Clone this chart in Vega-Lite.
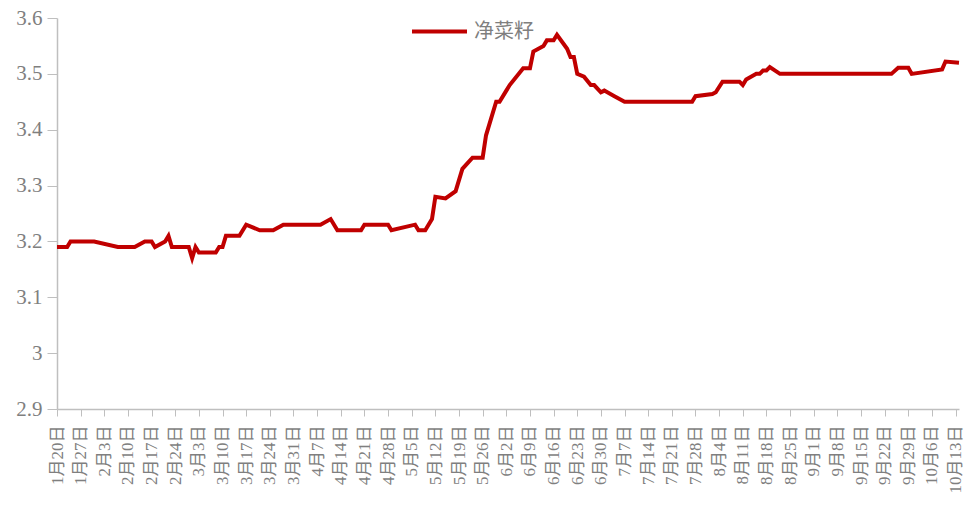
{
  "$schema": "https://vega.github.io/schema/vega-lite/v6.json",
  "autosize": "none",
  "width": 902,
  "height": 391,
  "padding": {"left": 57, "top": 18, "right": 9, "bottom": 109},
  "background": "white",
  "config": {"view": {"stroke": null}},
  "data": {
    "values": [
      {"date": "2025/01/20", "v": 3.19},
      {"date": "2025/01/23", "v": 3.19},
      {"date": "2025/01/24", "v": 3.20},
      {"date": "2025/01/31", "v": 3.20},
      {"date": "2025/02/07", "v": 3.19},
      {"date": "2025/02/12", "v": 3.19},
      {"date": "2025/02/15", "v": 3.20},
      {"date": "2025/02/17", "v": 3.20},
      {"date": "2025/02/18", "v": 3.19},
      {"date": "2025/02/21", "v": 3.20},
      {"date": "2025/02/22", "v": 3.21},
      {"date": "2025/02/23", "v": 3.19},
      {"date": "2025/02/28", "v": 3.19},
      {"date": "2025/03/01", "v": 3.17},
      {"date": "2025/03/02", "v": 3.19},
      {"date": "2025/03/03", "v": 3.18},
      {"date": "2025/03/08", "v": 3.18},
      {"date": "2025/03/09", "v": 3.19},
      {"date": "2025/03/10", "v": 3.19},
      {"date": "2025/03/11", "v": 3.21},
      {"date": "2025/03/15", "v": 3.21},
      {"date": "2025/03/17", "v": 3.23},
      {"date": "2025/03/21", "v": 3.22},
      {"date": "2025/03/25", "v": 3.22},
      {"date": "2025/03/28", "v": 3.23},
      {"date": "2025/04/08", "v": 3.23},
      {"date": "2025/04/11", "v": 3.24},
      {"date": "2025/04/13", "v": 3.22},
      {"date": "2025/04/20", "v": 3.22},
      {"date": "2025/04/21", "v": 3.23},
      {"date": "2025/04/28", "v": 3.23},
      {"date": "2025/04/29", "v": 3.22},
      {"date": "2025/05/06", "v": 3.23},
      {"date": "2025/05/07", "v": 3.22},
      {"date": "2025/05/09", "v": 3.22},
      {"date": "2025/05/11", "v": 3.24},
      {"date": "2025/05/12", "v": 3.28},
      {"date": "2025/05/15", "v": 3.277},
      {"date": "2025/05/18", "v": 3.29},
      {"date": "2025/05/20", "v": 3.33},
      {"date": "2025/05/23", "v": 3.35},
      {"date": "2025/05/26", "v": 3.35},
      {"date": "2025/05/27", "v": 3.39},
      {"date": "2025/05/30", "v": 3.45},
      {"date": "2025/05/31", "v": 3.45},
      {"date": "2025/06/02", "v": 3.47},
      {"date": "2025/06/03", "v": 3.48},
      {"date": "2025/06/07", "v": 3.51},
      {"date": "2025/06/09", "v": 3.51},
      {"date": "2025/06/10", "v": 3.54},
      {"date": "2025/06/13", "v": 3.55},
      {"date": "2025/06/14", "v": 3.56},
      {"date": "2025/06/16", "v": 3.56},
      {"date": "2025/06/17", "v": 3.57},
      {"date": "2025/06/20", "v": 3.545},
      {"date": "2025/06/21", "v": 3.53},
      {"date": "2025/06/22", "v": 3.53},
      {"date": "2025/06/23", "v": 3.50},
      {"date": "2025/06/25", "v": 3.495},
      {"date": "2025/06/27", "v": 3.48},
      {"date": "2025/06/28", "v": 3.48},
      {"date": "2025/06/30", "v": 3.467},
      {"date": "2025/07/01", "v": 3.47},
      {"date": "2025/07/04", "v": 3.46},
      {"date": "2025/07/07", "v": 3.45},
      {"date": "2025/07/09", "v": 3.45},
      {"date": "2025/07/27", "v": 3.45},
      {"date": "2025/07/28", "v": 3.46},
      {"date": "2025/08/02", "v": 3.464},
      {"date": "2025/08/03", "v": 3.467},
      {"date": "2025/08/05", "v": 3.486},
      {"date": "2025/08/10", "v": 3.486},
      {"date": "2025/08/11", "v": 3.48},
      {"date": "2025/08/12", "v": 3.49},
      {"date": "2025/08/15", "v": 3.50},
      {"date": "2025/08/16", "v": 3.50},
      {"date": "2025/08/17", "v": 3.506},
      {"date": "2025/08/18", "v": 3.506},
      {"date": "2025/08/19", "v": 3.512},
      {"date": "2025/08/22", "v": 3.50},
      {"date": "2025/09/24", "v": 3.50},
      {"date": "2025/09/26", "v": 3.511},
      {"date": "2025/09/29", "v": 3.511},
      {"date": "2025/09/30", "v": 3.50},
      {"date": "2025/10/09", "v": 3.508},
      {"date": "2025/10/10", "v": 3.522},
      {"date": "2025/10/14", "v": 3.52}
    ]
  },
  "mark": {"type": "line", "strokeWidth": 4, "strokeJoin": "miter"},
  "encoding": {
    "x": {
      "field": "date",
      "type": "temporal",
      "scale": {
        "domain": [{"year": 2025, "month": 1, "date": 20}, {"year": 2025, "month": 10, "date": 14}]
      },
      "axis": {
        "title": null,
        "format": "%-m月%-d日",
        "labelAngle": -90,
        "labelAlign": "right",
        "labelBaseline": "middle",
        "labelFont": "Liberation Serif, Noto Sans CJK SC",
        "labelFontSize": 17,
        "labelColor": "#7f7f7f",
        "labelPadding": 9,
        "labelOverlap": false,
        "labelFlush": false,
        "tickSize": 7,
        "tickColor": "#bfbfbf",
        "domainColor": "#bfbfbf",
        "domainWidth": 1.5,
        "grid": false,
        "values": [
          {"year": 2025, "month": 1, "date": 20},
          {"year": 2025, "month": 1, "date": 27},
          {"year": 2025, "month": 2, "date": 3},
          {"year": 2025, "month": 2, "date": 10},
          {"year": 2025, "month": 2, "date": 17},
          {"year": 2025, "month": 2, "date": 24},
          {"year": 2025, "month": 3, "date": 3},
          {"year": 2025, "month": 3, "date": 10},
          {"year": 2025, "month": 3, "date": 17},
          {"year": 2025, "month": 3, "date": 24},
          {"year": 2025, "month": 3, "date": 31},
          {"year": 2025, "month": 4, "date": 7},
          {"year": 2025, "month": 4, "date": 14},
          {"year": 2025, "month": 4, "date": 21},
          {"year": 2025, "month": 4, "date": 28},
          {"year": 2025, "month": 5, "date": 5},
          {"year": 2025, "month": 5, "date": 12},
          {"year": 2025, "month": 5, "date": 19},
          {"year": 2025, "month": 5, "date": 26},
          {"year": 2025, "month": 6, "date": 2},
          {"year": 2025, "month": 6, "date": 9},
          {"year": 2025, "month": 6, "date": 16},
          {"year": 2025, "month": 6, "date": 23},
          {"year": 2025, "month": 6, "date": 30},
          {"year": 2025, "month": 7, "date": 7},
          {"year": 2025, "month": 7, "date": 14},
          {"year": 2025, "month": 7, "date": 21},
          {"year": 2025, "month": 7, "date": 28},
          {"year": 2025, "month": 8, "date": 4},
          {"year": 2025, "month": 8, "date": 11},
          {"year": 2025, "month": 8, "date": 18},
          {"year": 2025, "month": 8, "date": 25},
          {"year": 2025, "month": 9, "date": 1},
          {"year": 2025, "month": 9, "date": 8},
          {"year": 2025, "month": 9, "date": 15},
          {"year": 2025, "month": 9, "date": 22},
          {"year": 2025, "month": 9, "date": 29},
          {"year": 2025, "month": 10, "date": 6},
          {"year": 2025, "month": 10, "date": 13}
        ]
      }
    },
    "y": {
      "field": "v",
      "type": "quantitative",
      "scale": {"domain": [2.9, 3.6], "nice": false, "zero": false},
      "axis": {
        "title": null,
        "values": [2.9, 3.0, 3.1, 3.2, 3.3, 3.4, 3.5, 3.6],
        "format": ".1~f",
        "labelFont": "Liberation Serif",
        "labelFontSize": 21,
        "labelColor": "#7f7f7f",
        "labelPadding": 5,
        "tickSize": 10,
        "tickColor": "#bfbfbf",
        "domainColor": "#bfbfbf",
        "domainWidth": 1.5,
        "grid": false
      }
    },
    "color": {
      "datum": "净菜籽",
      "scale": {"range": ["#C00000"]},
      "legend": {
        "title": null,
        "orient": "none",
        "legendX": 353,
        "legendY": -16,
        "symbolType": "stroke",
        "symbolSize": 3025,
        "symbolStrokeWidth": 4,
        "labelFont": "Noto Sans CJK SC",
        "labelFontSize": 20,
        "labelColor": "#7f7f7f",
        "labelOffset": 5
      }
    }
  }
}
